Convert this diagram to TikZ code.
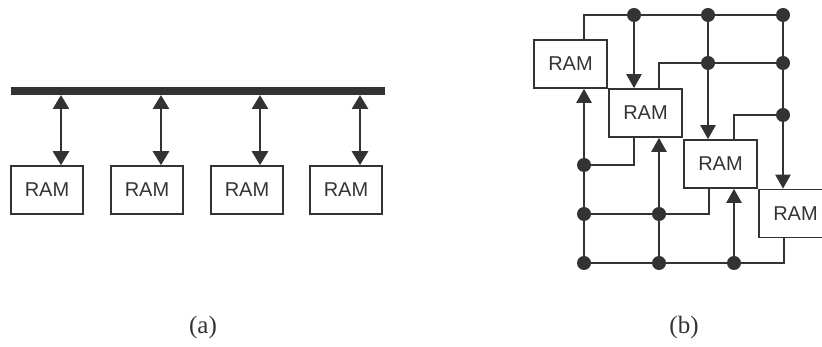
\documentclass[tikz,border=0pt]{standalone}
\usepackage{fontspec}
\setmainfont{Liberation Serif}
\setsansfont{Liberation Sans}
\usetikzlibrary{arrows.meta}
\definecolor{ink}{HTML}{333333}
\begin{document}
\begin{tikzpicture}[x=1pt,y=-1pt,
  ram/.style={draw=ink,line width=1.6pt,minimum width=72pt,minimum height=48pt,
    inner sep=0pt,font=\sffamily\fontsize{20}{20}\selectfont,text=ink},
  biarrow/.style={draw=ink,line width=2.8pt,{Triangle[width=16pt,length=14pt]}-{Triangle[width=16pt,length=14pt]}},
  wire/.style={draw=ink,line width=2.2pt},
  uarrow/.style={draw=ink,line width=2.2pt,-{Triangle[width=15pt,length=14pt]}},
  dot/.style={circle,fill=ink,minimum size=14pt,inner sep=0pt},
  captext/.style={font=\fontsize{25}{25}\selectfont,text=ink}]
\useasboundingbox (0,0) rectangle (822,347);
\clip (0,0) rectangle (822,347);
% ---------- (a) ----------
\fill[ink] (11,87) rectangle (385,95);
\node[ram] (a1) at (47,190) {RAM};
\node[ram] (a2) at (147,190) {RAM};
\node[ram] (a3) at (247,190) {RAM};
\node[ram] (a4) at (346,190) {RAM};
\coordinate (t1) at (61,95);
\coordinate (t2) at (161,95);
\coordinate (t3) at (260,95);
\coordinate (t4) at (360,95);
\draw[biarrow] (t1) -- (t1 |- a1.north);
\draw[biarrow] (t2) -- (t2 |- a2.north);
\draw[biarrow] (t3) -- (t3 |- a3.north);
\draw[biarrow] (t4) -- (t4 |- a4.north);
\node[captext] (la) at (203,327) {(a)};
% ---------- (b) ----------
\node[ram,minimum width=73pt] (b1) at (570.5,64) {RAM};
\node[ram,minimum width=73pt] (b2) at (645.5,113) {RAM};
\node[ram,minimum width=73pt] (b3) at (720.5,164) {RAM};
\node[ram,minimum width=73pt] (b4) at (795.5,213.5) {RAM};
% top grid
\coordinate (c1) at (584,15);
\node[dot] (d11) at (634,15) {};
\node[dot] (d12) at (708,15) {};
\node[dot] (d13) at (783,15) {};
\node[dot] (d22) at (708,63) {};
\node[dot] (d23) at (783,63) {};
\node[dot] (d33) at (783,115) {};
\draw[wire] (c1 |- b1.north) -- (c1) -- (d13.center);
\draw[uarrow] (d11.center) -- (d11 |- b2.north);
\draw[uarrow] (d12.center) -- (d12 |- b3.north);
\draw[uarrow] (d13.center) -- (d13 |- b4.north);
\coordinate (c2) at (659,63);
\draw[wire] (c2 |- b2.north) -- (c2) -- (d23.center);
\coordinate (c3) at (734,115);
\draw[wire] (c3 |- b3.north) -- (c3) -- (d33.center);
% bottom grid
\node[dot] (e1) at (584,165) {};
\node[dot] (e2) at (584,214) {};
\node[dot] (e3) at (584,263) {};
\node[dot] (e22) at (659,214) {};
\node[dot] (e32) at (659,263) {};
\node[dot] (e33) at (734,263) {};
\coordinate (f1) at (634,165);
\coordinate (f2) at (709,214);
\coordinate (f3) at (784,263);
\draw[wire] (e1.center) -- (f1) -- (f1 |- b2.south);
\draw[wire] (e2.center) -- (f2) -- (f2 |- b3.south);
\draw[wire] (e3.center) -- (f3) -- (f3 |- b4.south);
\draw[uarrow] (e3.center) -- (e3 |- b1.south);
\draw[uarrow] (e32.center) -- (e32 |- b2.south);
\draw[uarrow] (e33.center) -- (e33 |- b3.south);
\node[captext] (lb) at (684,327) {(b)};
\end{tikzpicture}
\end{document}
